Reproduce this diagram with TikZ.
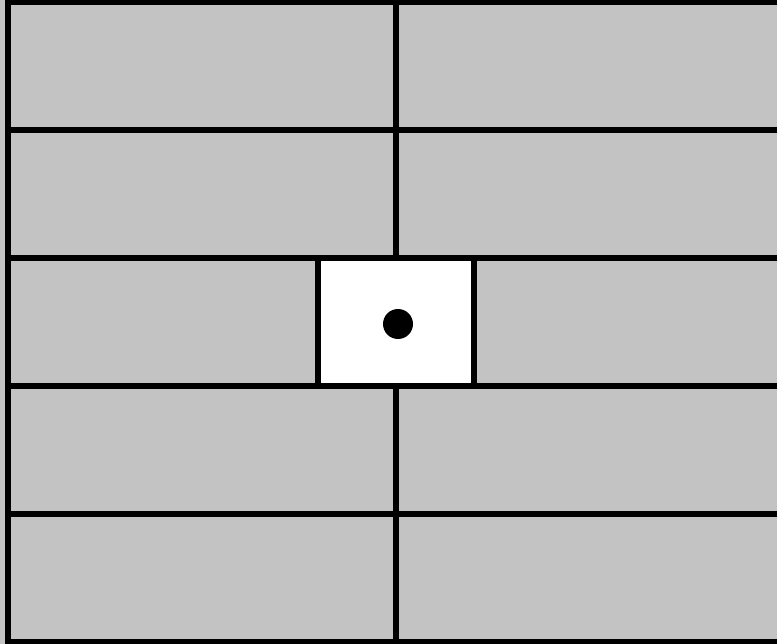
\documentclass[tikz,border=0pt]{standalone}
\definecolor{brick}{RGB}{195,195,195}
\tikzset{
  wall/.style={line width=5.5pt, black},
  gap/.style={draw=black, line width=5.5pt, fill=white, minimum width=156pt, minimum height=128pt, inner sep=0pt, outer sep=0pt},
  dot/.style={circle, fill=black, minimum size=30pt, inner sep=0pt}
}
\begin{document}
\begin{tikzpicture}[x=1pt,y=-1pt]
\useasboundingbox (0,0) rectangle (777,644);
\clip (0,0) rectangle (777,644);
\fill[brick] (0,0) rectangle (777,644);
% horizontal mortar lines
\foreach \y in {2.5,130,258,386,514,641.5}
  \draw[wall] (8,\y) -- (780,\y);
% left edge
\draw[wall] (8,0) -- (8,644);
% vertical joints
\draw[wall] (396,2.5) -- (396,258);
\draw[wall] (396,386) -- (396,641.5);
% missing brick
\node[gap] (hole) at (396,322) {};
\node[dot] (pin) at (398,324) {};
\end{tikzpicture}
\end{document}
